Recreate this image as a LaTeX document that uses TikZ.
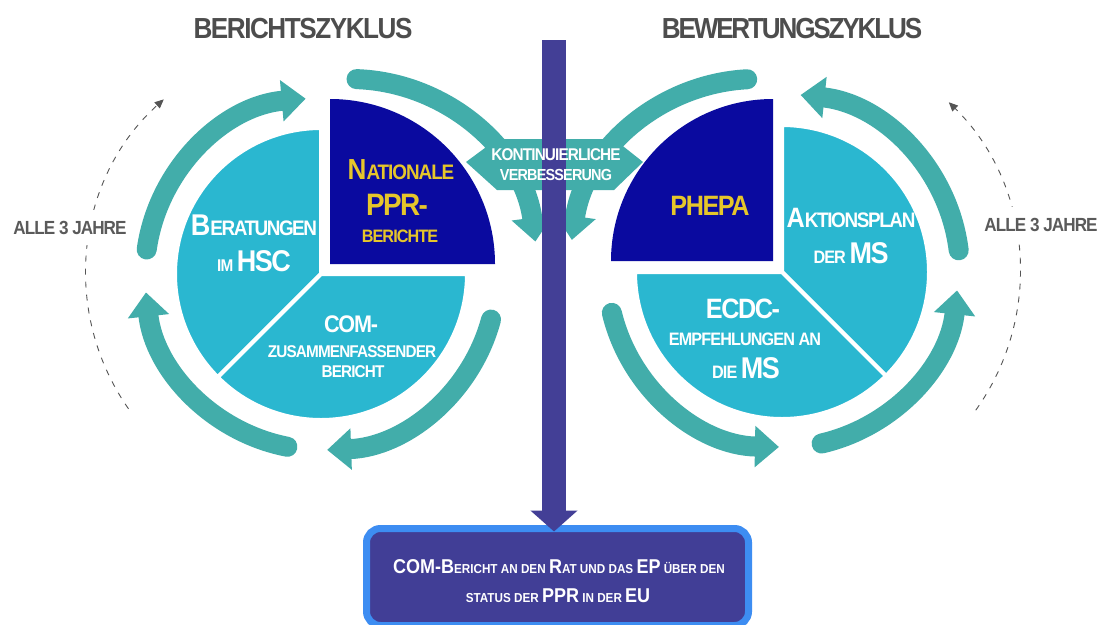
\documentclass[tikz,border=0pt]{standalone}
\usepackage{fontspec}
\setmainfont{Liberation Sans}[FakeStretch=0.9,LetterSpace=-5]
\usetikzlibrary{arrows.meta}
\definecolor{tealc}{HTML}{42ADAA}
\definecolor{skyc}{HTML}{2AB7D0}
\definecolor{navyc}{HTML}{0A0A9F}
\definecolor{barc}{HTML}{433F96}
\definecolor{boxfill}{HTML}{413E96}
\definecolor{boxline}{HTML}{3D8DF2}
\definecolor{goldc}{HTML}{E6C62A}
\definecolor{titlegray}{HTML}{4D4D4D}
\definecolor{yeargray}{HTML}{5A5A5A}
\definecolor{dashgray}{HTML}{555555}
\newcommand\fsz[1]{\fontsize{#1}{#1}\selectfont}
\begin{document}
\begin{tikzpicture}[x=1pt,y=-1pt,
  band/.style={tealc, line width=20pt, line cap=round, -{Triangle[width=40pt,length=24pt]}},
  sector/.style={draw=white, line width=4pt, line join=round},
  lab/.style={anchor=base, inner sep=0pt, font=\bfseries},
  yearlab/.style={anchor=base, inner xsep=2pt, inner ysep=11pt, fill=white, text=yeargray, font=\bfseries\fsz{19}},
  cyclearc/.style={dashgray, line width=0.9pt, dash pattern=on 6pt off 7pt, -{Triangle[width=8pt,length=9pt]}},
  boxstyle/.style={draw=boxline, fill=boxfill, line width=7pt, rounded corners=14pt, minimum width=382pt, minimum height=97pt, inner sep=0pt},
  bararrow/.style={barc, line width=24pt, -{Triangle[width=46pt,length=21pt]}}
]
\useasboundingbox (0,0) rectangle (1099,624);
\clip (0,0) rectangle (1099,624);
\fill[white] (0,0) rectangle (1099,624);

% centres
\coordinate (L) at (321,274);
\coordinate (LT) at (350,266);
\coordinate (LN) at (330,264);
\coordinate (R) at (782,272);
\coordinate (RT) at (757,266);
\coordinate (RN) at (773,261);

% left pie
\fill[navyc] (LN) -- ++(0:165) arc[start angle=0, end angle=-90, radius=165] -- cycle;
\path[fill=skyc, sector] (L) -- ++(-90:146) arc[start angle=-90, end angle=-225, radius=146] -- cycle;
\path[fill=skyc, sector] (L) -- ++(-225:146) arc[start angle=-225, end angle=-360, radius=146] -- cycle;

% right pie
\fill[navyc] (RN) -- ++(-90:162) arc[start angle=-90, end angle=-180, radius=162] -- cycle;
\path[fill=skyc, sector] (R) -- ++(45:147) arc[start angle=45, end angle=-90, radius=147] -- cycle;
\path[fill=skyc, sector] (R) -- ++(-180:147) arc[start angle=-180, end angle=-315, radius=147] -- cycle;

% left cycle arrows
\draw[band] ([shift={(-172:176)}]L) arc[start angle=-172, end angle=-95, radius=176];
\draw[band] ([shift={(15:176)}]L) arc[start angle=15, end angle=88, radius=176];
\draw[band] ([shift={(101:176)}]L) arc[start angle=101, end angle=174, radius=176];
\draw[band] ([shift={(-88:187)}]LT) arc[start angle=-88, end angle=-7.5, radius=187];

% right cycle arrows
\draw[band] ([shift={(-7:178)}]R) arc[start angle=-7, end angle=-84, radius=178];
\draw[band] ([shift={(77:176)}]R) arc[start angle=77, end angle=6, radius=176];
\draw[band] ([shift={(-193.5:175)}]R) arc[start angle=-193.5, end angle=-269, radius=175];
\draw[band] ([shift={(-93:187)}]RT) arc[start angle=-93, end angle=-172, radius=187];

% centre label shape
\fill[tealc] (466,162) -- (497,139) -- (614,139) -- (643,162) -- (614,190) -- (497,190) -- cycle;

% bottom box and vertical arrow
\node[boxstyle] (box) at (557.5,577) {};
\coordinate (bartop) at (554,40);
\draw[bararrow] (bartop) -- ([yshift=-6.5pt]bartop |- box.north);

% texts
\node[lab, goldc] (n1) at (401,179) {\fsz{29}N\fsz{21}ATIONALE};
\node[lab, goldc] (n2) at (397,215) {\fsz{31}PPR-};
\node[lab, goldc] (n3) at (400,242) {\fsz{18}BERICHTE};
\node[lab, white] (b1) at (254,235) {\addfontfeatures{LetterSpace=-7}\fsz{30}B\fsz{21}ERATUNGEN};
\node[lab, white] (b2) at (254,271) {\fsz{17}IM \fsz{30}HSC};
\node[lab, white] (c1) at (351,332) {\fsz{24}COM-};
\node[lab, white] (c2) at (352,357) {\fsz{17}ZUSAMMENFASSENDER};
\node[lab, white] (c3) at (353,377) {\fsz{17}BERICHT};
\node[lab, goldc] (p1) at (710,215) {\fsz{28}PHEPA};
\node[lab, white] (a1) at (851,227) {\addfontfeatures{LetterSpace=-6.5}\fsz{28}A\fsz{21}KTIONSPLAN};
\node[lab, white] (a2) at (851,263) {\fsz{18}DER \fsz{30}MS};
\node[lab, white] (e1) at (743,318) {\fsz{28}ECDC-};
\node[lab, white] (e2) at (745,345) {\fsz{18}EMPFEHLUNGEN AN};
\node[lab, white] (e3) at (746,378) {\fsz{18}DIE \fsz{30}MS};
\node[lab, white] (k1) at (556,160) {\fsz{17}KONTINUIERLICHE};
\node[lab, white] (k2) at (556,180) {\fsz{16}VERBESSERUNG};
\node[lab, white] (x1) at (559,573) {\addfontfeatures{LetterSpace=0}\fsz{20}COM-B\fsz{13}ERICHT AN DEN \fsz{20}R\fsz{13}AT UND DAS \fsz{20}EP\fsz{13} ÜBER DEN};
\node[lab, white] (x2) at (558,602) {\addfontfeatures{LetterSpace=0}\fsz{13}STATUS DER \fsz{20}PPR\fsz{13} IN DER \fsz{20}EU};

% dashed cycle arcs
\draw[cyclearc] ([shift={(-215:235)}]L) arc[start angle=-215, end angle=-132, radius=235];
\draw[cyclearc] ([shift={(35.5:238)}]R) arc[start angle=35.5, end angle=-45.5, radius=238];
\node[yearlab] (y1) at (70,234) {ALLE 3 JAHRE};
\node[yearlab] (y2) at (1041,231) {ALLE 3 JAHRE};

% titles
\node[lab, titlegray, font=\bfseries\fsz{29}] (t1) at (303,38) {BERICHTSZYKLUS};
\node[lab, titlegray, font=\bfseries\fsz{29}] (t2) at (792,38) {\addfontfeatures{LetterSpace=-7.5}BEWERTUNGSZYKLUS};
\end{tikzpicture}
\end{document}
